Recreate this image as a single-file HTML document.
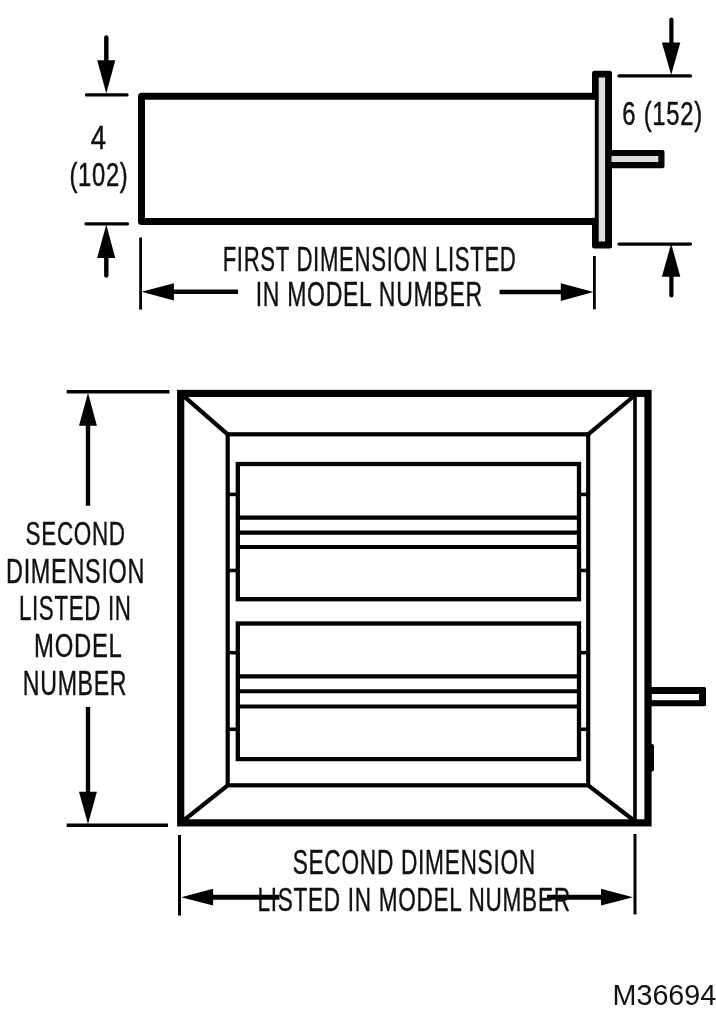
<!DOCTYPE html>
<html><head><meta charset="utf-8"><style>
html,body{margin:0;padding:0;background:#fff;width:716px;height:1024px;overflow:hidden}
svg{display:block}
</style></head><body>
<svg width="716" height="1024" viewBox="0 0 716 1024">
<rect width="716" height="1024" fill="#fff"/>
<g stroke="#000" fill="#000">
<path d="M596,96.3 H141.5 V221.5 H596" fill="none" stroke-width="7" stroke-linejoin="round"/>
<line x1="106.3" y1="37.5" x2="106.3" y2="62" stroke-width="4.4" stroke-linecap="round"/>
<polygon stroke="none" points="97.2,60.2 115.3,60.2 106.3,93.5"/>
<line x1="86.5" y1="94.9" x2="127" y2="94.9" stroke-width="3.3" stroke-linecap="round"/>
<line x1="86" y1="223.8" x2="127.5" y2="223.8" stroke-width="3.3" stroke-linecap="round"/>
<polygon stroke="none" points="97.1,258 115.2,258 106.3,224.5"/>
<line x1="106.3" y1="256" x2="106.3" y2="275.5" stroke-width="4.4" stroke-linecap="round"/>
<line x1="671.4" y1="19.5" x2="671.4" y2="44" stroke-width="4.2" stroke-linecap="round"/>
<polygon stroke="none" points="661.9,42.6 680.3,42.6 671.2,75"/>
<line x1="619" y1="75.9" x2="690.5" y2="75.9" stroke-width="3.2" stroke-linecap="round"/>
<line x1="619" y1="244.1" x2="690.5" y2="244.1" stroke-width="3.2" stroke-linecap="round"/>
<polygon stroke="none" points="661.9,276.8 680.3,276.8 671.2,243.5"/>
<line x1="671.4" y1="275" x2="671.4" y2="295.5" stroke-width="4.2" stroke-linecap="round"/>
<line x1="140.6" y1="237.5" x2="140.6" y2="309.6" stroke-width="2.8" stroke-linecap="butt"/>
<line x1="594.4" y1="256" x2="594.4" y2="309.3" stroke-width="2.8" stroke-linecap="butt"/>
<polygon stroke="none" points="141.5,291.8 173.9,283.3 173.9,300.4"/>
<line x1="172" y1="291.8" x2="238" y2="291.8" stroke-width="4.5" stroke-linecap="butt"/>
<polygon stroke="none" points="593.5,292.1 560.8,283.3 560.8,300.9"/>
<line x1="499.6" y1="292.1" x2="562" y2="292.1" stroke-width="4.5" stroke-linecap="butt"/>
</g>

<rect x="592" y="70.8" width="20" height="177.7" rx="2.5" fill="#000"/>
<rect x="592" y="99.8" width="2.8" height="118" fill="#fff"/>
<rect x="605" y="150" width="59.5" height="18.2" rx="2" fill="#000"/>
<rect x="598.7" y="77.5" width="6.4" height="164" fill="#dcdcdc"/>
<rect x="611.5" y="156" width="46.8" height="6" fill="#dcdcdc"/>

<g stroke="#000" fill="#000">
<rect x="180.7" y="393.45" width="467.3" height="429.4" fill="none" stroke-width="7.2"/>
<line x1="635" y1="396" x2="635" y2="820" stroke-width="3.6" stroke-linecap="butt"/>
<rect x="227.7" y="434.3" width="360.5" height="351" fill="none" stroke-width="4.2"/>
<line x1="183.5" y1="395.8" x2="227.7" y2="434.3" stroke-width="4.2" stroke-linecap="butt"/>
<line x1="634" y1="396" x2="588.2" y2="434.3" stroke-width="4.2" stroke-linecap="butt"/>
<line x1="183.5" y1="820.5" x2="227.7" y2="785.3" stroke-width="4.2" stroke-linecap="butt"/>
<line x1="588.2" y1="785.3" x2="634" y2="820.5" stroke-width="4.2" stroke-linecap="butt"/>
<rect x="237.8" y="464" width="341.2" height="135.20000000000005" fill="none" stroke-width="4.3"/>
<line x1="237.8" y1="517.6" x2="579" y2="517.6" stroke-width="4.1" stroke-linecap="butt"/>
<line x1="237.8" y1="532.6" x2="579" y2="532.6" stroke-width="4.1" stroke-linecap="butt"/>
<line x1="237.8" y1="547" x2="579" y2="547" stroke-width="4.1" stroke-linecap="butt"/>
<line x1="227.7" y1="494.4" x2="237.8" y2="494.4" stroke-width="3.6" stroke-linecap="butt"/>
<line x1="579" y1="494.4" x2="588.2" y2="494.4" stroke-width="3.6" stroke-linecap="butt"/>
<line x1="227.7" y1="570.5" x2="237.8" y2="570.5" stroke-width="3.6" stroke-linecap="butt"/>
<line x1="579" y1="570.5" x2="588.2" y2="570.5" stroke-width="3.6" stroke-linecap="butt"/>
<rect x="237.8" y="623.5" width="341.2" height="135.60000000000002" fill="none" stroke-width="4.3"/>
<line x1="237.8" y1="676.4" x2="579" y2="676.4" stroke-width="4.1" stroke-linecap="butt"/>
<line x1="237.8" y1="691.3" x2="579" y2="691.3" stroke-width="4.1" stroke-linecap="butt"/>
<line x1="237.8" y1="706.5" x2="579" y2="706.5" stroke-width="4.1" stroke-linecap="butt"/>
<line x1="227.7" y1="652.7" x2="237.8" y2="652.7" stroke-width="3.6" stroke-linecap="butt"/>
<line x1="579" y1="652.7" x2="588.2" y2="652.7" stroke-width="3.6" stroke-linecap="butt"/>
<line x1="227.7" y1="729.3" x2="237.8" y2="729.3" stroke-width="3.6" stroke-linecap="butt"/>
<line x1="579" y1="729.3" x2="588.2" y2="729.3" stroke-width="3.6" stroke-linecap="butt"/>
<line x1="66.7" y1="391.8" x2="169.5" y2="391.8" stroke-width="3.4" stroke-linecap="butt"/>
<line x1="66.7" y1="825.3" x2="168" y2="825.3" stroke-width="3.4" stroke-linecap="butt"/>
<polygon stroke="none" points="88,392.8 79,425.8 96.9,425.8"/>
<line x1="88" y1="424" x2="88" y2="505.7" stroke-width="4.4" stroke-linecap="butt"/>
<polygon stroke="none" points="88,824.2 79,791.7 96.9,791.7"/>
<line x1="88" y1="706.9" x2="88" y2="793" stroke-width="4.4" stroke-linecap="butt"/>
<line x1="179.5" y1="835" x2="179.5" y2="915.5" stroke-width="3" stroke-linecap="butt"/>
<line x1="635" y1="834" x2="635" y2="914.4" stroke-width="3" stroke-linecap="butt"/>
<polygon stroke="none" points="181.2,897.2 213.1,888.7 213.1,905.4"/>
<line x1="211" y1="897.3" x2="279.5" y2="897.3" stroke-width="5" stroke-linecap="butt"/>
<polygon stroke="none" points="633,897.2 601,888.7 601,905.4"/>
<line x1="547" y1="897.3" x2="603" y2="897.3" stroke-width="5" stroke-linecap="butt"/>
</g>

<rect x="648" y="687" width="58" height="19.2" rx="1.5" fill="#000"/>
<rect x="651.8" y="694" width="47.2" height="6.2" fill="#fff"/>
<rect x="649" y="744" width="5" height="27.4" rx="2" fill="#000"/>

<g font-family="Liberation Sans, sans-serif" font-size="100" fill="#111" stroke="#111" style="opacity:0.999">
<text letter-spacing="3" stroke-width="1.2" transform="matrix(0.22183 0 0 0.34722 222.625 270.653)">FIRST DIMENSION LISTED</text>
<text letter-spacing="3" stroke-width="1.2" transform="matrix(0.23041 0 0 0.35915 255.726 306.141)">IN MODEL NUMBER</text>
<text letter-spacing="0" stroke-width="1.5" transform="matrix(0.27451 0 0 0.33571 90.751 149.100)">4</text>
<text letter-spacing="3" stroke-width="1.5" transform="matrix(0.23787 0 0 0.33803 69.411 186.162)">(102)</text>
<text letter-spacing="3" stroke-width="1.5" transform="matrix(0.23846 0 0 0.33521 622.346 124.665)">6 (152)</text>
<text letter-spacing="3" stroke-width="1.2" transform="matrix(0.22465 0 0 0.33611 25.601 545.364)">SECOND</text>
<text letter-spacing="3" stroke-width="1.2" transform="matrix(0.23443 0 0 0.34444 6.025 582.956)">DIMENSION</text>
<text letter-spacing="3" stroke-width="1.2" transform="matrix(0.22325 0 0 0.34306 18.914 619.957)">LISTED IN</text>
<text letter-spacing="3" stroke-width="1.2" transform="matrix(0.23894 0 0 0.33239 34.089 657.068)">MODEL</text>
<text letter-spacing="3" stroke-width="1.2" transform="matrix(0.23135 0 0 0.34789 22.849 695.252)">NUMBER</text>
<text letter-spacing="3" stroke-width="1.2" transform="matrix(0.22727 0 0 0.34167 292.691 873.858)">SECOND DIMENSION</text>
<text letter-spacing="3" stroke-width="1.2" transform="matrix(0.22620 0 0 0.33333 257.590 910.667)">LISTED IN MODEL NUMBER</text>
<text letter-spacing="0" stroke-width="0" transform="matrix(0.28714 0 0 0.29014 612.503 1005.310)">M36694</text>
</g>
</svg>
</body></html>
